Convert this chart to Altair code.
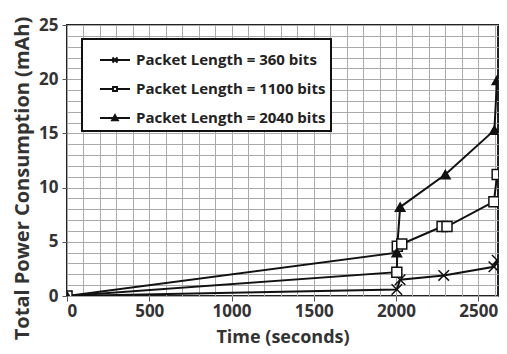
import altair as alt
import pandas as pd

series_names = ["Packet Length = 360 bits", "Packet Length = 1100 bits", "Packet Length = 2040 bits"]

time_360 = [0, 2005, 2025, 2290, 2595, 2615]
power_360 = [0, 0.6, 1.5, 1.9, 2.7, 3.3]

time_1100 = [0, 2005, 2008, 2035, 2280, 2310, 2595, 2615]
power_1100 = [0, 2.2, 4.6, 4.8, 6.4, 6.4, 8.7, 11.2]

time_2040 = [0, 2005, 2025, 2300, 2598, 2614]
power_2040 = [0, 4.0, 8.2, 11.2, 15.3, 19.9]

x_grid = list(range(0, 2601, 100))
y_grid = list(range(0, 26, 1))

rows = []
for name, ts, ps in [(series_names[0], time_360, power_360),
                     (series_names[1], time_1100, power_1100),
                     (series_names[2], time_2040, power_2040)]:
    for i, (t, p) in enumerate(zip(ts, ps)):
        rows.append({"series": name, "time": t, "power": p, "order": i})
df = pd.DataFrame(rows)

FONT = "Open Sans"
X_PATH = "M-1,-1L1,1M-1,1L1,-1"
LEG_X = "M-1,0L1,0M-0.17,-0.17L0.17,0.17M-0.17,0.17L0.17,-0.17"
LEG_SQ = "M-1,0L-0.13,0M0.13,0L1,0M-0.13,-0.13L0.13,-0.13L0.13,0.13L-0.13,0.13Z"
LEG_TRI = "M-1,0L1,0M0,-0.19L0.19,0.15L-0.19,0.15Z"

x_enc = alt.X("time:Q", scale=alt.Scale(domain=[0, 2620], nice=False, zero=True),
              axis=alt.Axis(values=x_grid, title="Time (seconds)", labelOverlap=False,
                            labelExpr="datum.value % 500 === 0 ? datum.label : ''",
                            tickOpacity={"condition": {"test": "datum.value % 500 === 0", "value": 1}, "value": 0},
                            format="d", titleFontSize=18, titleY=41, titleBaseline="middle",
                            labelPadding=2))
y_enc = alt.Y("power:Q", scale=alt.Scale(domain=[0, 25], nice=False),
              axis=alt.Axis(values=y_grid, title="Total Power Consumption (mAh)", labelOverlap=False,
                            labelExpr="datum.value % 5 === 0 ? datum.label : ''",
                            tickOpacity={"condition": {"test": "datum.value % 5 === 0", "value": 1}, "value": 0},
                            titleY=153, titlePadding=6, labelPadding=4))

base = alt.Chart(df).encode(x=x_enc, y=y_enc)

lines = base.mark_line(color="#111111", strokeWidth=2, clip=True).encode(
    detail="series:N", order="order:Q")

points = base.mark_point(stroke="#111111", strokeWidth=1.5, opacity=1, clip=True).encode(
    shape=alt.Shape("series:N", scale=alt.Scale(domain=series_names, range=[X_PATH, "square", "triangle-up"]), legend=None),
    fill=alt.Fill("series:N", scale=alt.Scale(domain=series_names, range=["transparent", "white", "#111111"]), legend=None),
    size=alt.Size("series:N", scale=alt.Scale(domain=series_names, range=[110, 90, 110]), legend=None),
)

leg = alt.Legend(title=None, orient="none", legendX=15, legendY=14,
                 fillColor="white", strokeColor="#111111",
                 padding=5, rowPadding=5, symbolSize=900, symbolOpacity=1, symbolOffset=12,
                 symbolStrokeColor="#111111", symbolStrokeWidth=2,
                 labelFont=FONT, labelFontSize=15, labelFontWeight="bold",
                 labelExpr="datum.label + '   '",
                 labelColor="#222222", labelOffset=5, labelLimit=400)

legend_layer = base.mark_point(strokeWidth=2, opacity=0, clip=True).encode(
    shape=alt.Shape("series:N", scale=alt.Scale(domain=series_names, range=[LEG_X, LEG_SQ, LEG_TRI]), legend=leg),
    fill=alt.Fill("series:N", scale=alt.Scale(domain=series_names, range=["transparent", "white", "#111111"]), legend=leg),
    stroke=alt.Stroke("series:N", scale=alt.Scale(domain=series_names, range=["#111111", "#111111", "#111111"]), legend=leg),
)

chart = alt.layer(lines, points, legend_layer).resolve_scale(
    shape="independent", fill="independent", size="independent", stroke="independent"
).properties(
    width=491, height=338,
    autosize=alt.AutoSizeParams(type="fit", contains="padding"),
    padding={"left": 4, "top": 8, "right": 1, "bottom": 0},
).configure_view(
    stroke="#222222", strokeWidth=2
).configure_legend(
    strokeWidth=2
).configure_axis(
    grid=True, gridColor="#aaaaaa", gridWidth=1,
    domain=False, tickColor="#555555", tickSize=5,
    labelFont=FONT, labelFontSize=17, labelFontWeight="bold", labelColor="#333333",
    titleFont=FONT, titleFontSize=20, titleFontWeight="bold", titleColor="#333333",
)

chart.save("out.html", embed_options={"renderer": "svg", "actions": False})
